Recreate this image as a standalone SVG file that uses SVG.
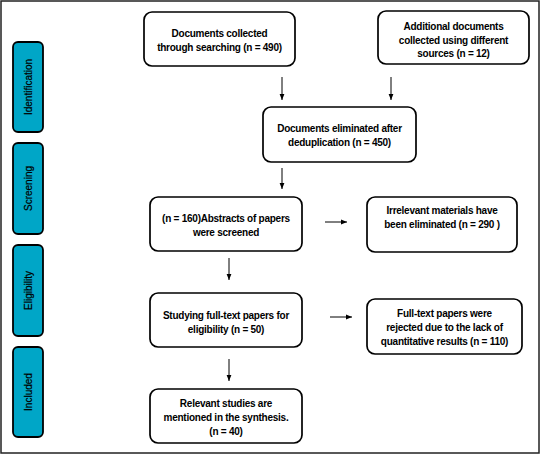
<svg xmlns="http://www.w3.org/2000/svg" width="541" height="455" viewBox="0 0 541 455">
<defs>
<marker id="ah" viewBox="0 0 10 10" refX="10" refY="5" markerWidth="6" markerHeight="6" markerUnits="userSpaceOnUse" orient="auto">
<path d="M0,1 L10,5 L0,9 z" fill="#000"/>
</marker>
</defs>
<style>
.box{fill:#fff;stroke:#000;stroke-width:1.7}
.side{fill:#00a6c7;stroke:#000;stroke-width:1.8}
.t{font-family:"Liberation Sans",Arial,sans-serif;font-weight:bold;font-size:10px;text-anchor:middle;fill:#000;letter-spacing:-0.25px}
.s{font-family:"Liberation Sans",Arial,sans-serif;font-size:10px;text-anchor:middle;fill:#000;stroke:#000;stroke-width:0.2}
.c{stroke:#000;stroke-width:1;fill:none;marker-end:url(#ah)}
</style>
<rect x="1" y="1" width="538" height="452" fill="#fff" stroke="#222" stroke-width="1.5"/>
<g id="side-identification"><rect class="side" x="13" y="42" width="30" height="90" rx="5"/><text class="s" transform="translate(31.5,87) rotate(-90)">Identification</text></g>
<g id="side-screening"><rect class="side" x="13" y="143" width="30" height="91" rx="5"/><text class="s" transform="translate(31.5,188.5) rotate(-90)">Screening</text></g>
<g id="side-eligibility"><rect class="side" x="13" y="245" width="30" height="91" rx="5"/><text class="s" transform="translate(31.5,290.5) rotate(-90)">Eligibility</text></g>
<g id="side-included"><rect class="side" x="13" y="347" width="30" height="90" rx="5"/><text class="s" transform="translate(31.5,392) rotate(-90)">Included</text></g>
<g id="connectors">
<line class="c" x1="282" y1="77" x2="282" y2="100"/>
<line class="c" x1="391" y1="77" x2="391" y2="100"/>
<line class="c" x1="282" y1="168" x2="282" y2="189"/>
<line class="c" x1="325" y1="222" x2="347" y2="222"/>
<line class="c" x1="229" y1="258" x2="229" y2="280"/>
<line class="c" x1="330" y1="317" x2="352" y2="317"/>
<line class="c" x1="229" y1="359" x2="229" y2="381"/>
</g>
<g id="n1"><rect class="box" x="144" y="12" width="151" height="54" rx="8"/><text class="t" x="219.5" y="36.5">Documents collected</text><text class="t" x="219.5" y="50.5">through searching (n = 490)</text></g>
<g id="n2"><rect class="box" x="378" y="11" width="151" height="53" rx="8"/><text class="t" x="453.5" y="29.5">Additional documents</text><text class="t" x="453.5" y="43.5">collected using different</text><text class="t" x="453.5" y="57">sources (n = 12)</text></g>
<g id="n3"><rect class="box" x="263" y="107" width="153" height="55" rx="8"/><text class="t" x="339.5" y="131.5">Documents eliminated after</text><text class="t" x="339.5" y="145.5">deduplication (n = 450)</text></g>
<g id="n4"><rect class="box" x="150" y="197" width="152" height="54" rx="8"/><text class="t" x="226" y="221.5">(n = 160)Abstracts of papers</text><text class="t" x="226" y="236">were screened</text></g>
<g id="n5"><rect class="box" x="367" y="197" width="150" height="55" rx="8"/><text class="t" x="442" y="213.5">Irrelevant materials have</text><text class="t" x="442" y="228">been eliminated (n = 290 )</text></g>
<g id="n6"><rect class="box" x="150" y="293" width="152" height="54" rx="8"/><text class="t" x="226" y="318.5">Studying full-text papers for</text><text class="t" x="226" y="332.5">eligibility (n = 50)</text></g>
<g id="n7"><rect class="box" x="367" y="299" width="155" height="55" rx="8"/><text class="t" x="444.5" y="316.5">Full-text papers were</text><text class="t" x="444.5" y="330.5">rejected due to the lack of</text><text class="t" x="444.5" y="344.5">quantitative results (n = 110)</text></g>
<g id="n8"><rect class="box" x="150" y="389" width="152" height="54" rx="8"/><text class="t" x="226" y="406.5">Relevant studies are</text><text class="t" x="226" y="420.5">mentioned in the synthesis.</text><text class="t" x="226" y="434.5">(n = 40)</text></g>
</svg>
